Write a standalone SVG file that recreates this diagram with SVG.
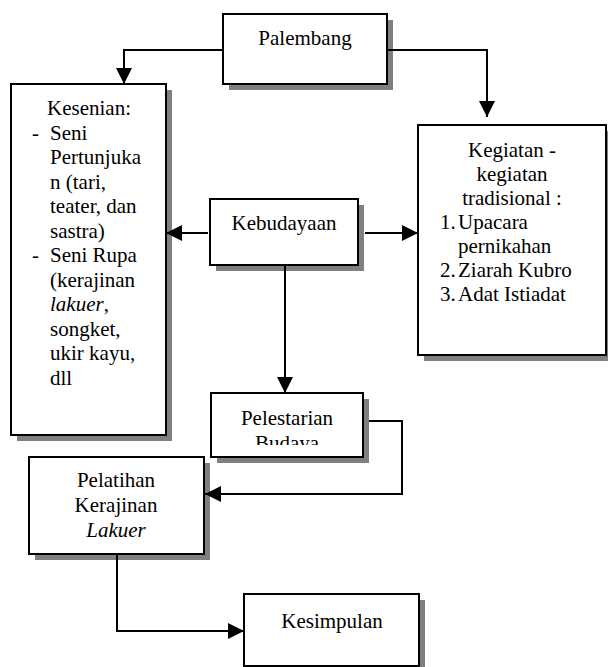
<svg xmlns="http://www.w3.org/2000/svg" width="608" height="667" viewBox="0 0 608 667">
<style>
.box{fill:#fff;stroke:#000;stroke-width:2}
.sh{fill:#808080;stroke:none}
.t{font-family:"Liberation Serif","Times New Roman",serif;font-size:21px;fill:#000}
.m{text-anchor:middle}
.c{fill:none;stroke:#000;stroke-width:2}
</style>
<defs>
<marker id="ah" markerUnits="userSpaceOnUse" markerWidth="16" markerHeight="16" refX="16" refY="8" orient="auto">
<path d="M0,0 L16,8 L0,16 z" fill="#000"/>
</marker>
<clipPath id="clipPel"><rect x="211" y="393" width="152" height="52"/></clipPath>
</defs>
<rect width="608" height="667" fill="#fff"/>

<g id="palembang">
<rect class="sh" x="229" y="20" width="164" height="70"/>
<rect class="box" x="223" y="14" width="164" height="70"/>
<text class="t m" x="305" y="45">Palembang</text>
</g>

<g id="kesenian">
<rect class="sh" x="17" y="90" width="155" height="351"/>
<rect class="box" x="11" y="84" width="155" height="351"/>
<text class="t m" x="89" y="115">Kesenian:</text>
<text class="t" x="32" y="139.5">-</text>
<text class="t" x="50" y="139.5">Seni</text>
<text class="t" x="50" y="164">Pertunjuka</text>
<text class="t" x="50" y="188.5">n (tari,</text>
<text class="t" x="50" y="213">teater, dan</text>
<text class="t" x="50" y="237.5">sastra)</text>
<text class="t" x="32" y="262">-</text>
<text class="t" x="50" y="262">Seni Rupa</text>
<text class="t" x="50" y="286.5">(kerajinan</text>
<text class="t" x="50" y="311"><tspan font-style="italic">lakuer</tspan>,</text>
<text class="t" x="50" y="335.5">songket,</text>
<text class="t" x="50" y="360">ukir kayu,</text>
<text class="t" x="50" y="384.5">dll</text>
</g>

<g id="kegiatan">
<rect class="sh" x="424" y="131" width="188" height="230"/>
<rect class="box" x="418" y="125" width="188" height="230"/>
<text class="t m" x="512" y="157">Kegiatan -</text>
<text class="t m" x="512" y="181">kegiatan</text>
<text class="t m" x="512" y="205">tradisional :</text>
<text class="t" x="440" y="229">1.</text>
<text class="t" x="458" y="229">Upacara</text>
<text class="t" x="458" y="253">pernikahan</text>
<text class="t" x="440" y="277">2.</text>
<text class="t" x="458" y="277">Ziarah Kubro</text>
<text class="t" x="440" y="301">3.</text>
<text class="t" x="458" y="301">Adat Istiadat</text>
</g>

<g id="kebudayaan">
<rect class="sh" x="216" y="205" width="148" height="66"/>
<rect class="box" x="210" y="199" width="148" height="66"/>
<text class="t m" x="284" y="230">Kebudayaan</text>
</g>

<g id="pelestarian">
<rect class="sh" x="217" y="399" width="152" height="64"/>
<rect class="box" x="211" y="393" width="152" height="64"/>
<g clip-path="url(#clipPel)">
<text class="t m" x="287" y="425">Pelestarian</text>
<text class="t m" x="287" y="449.5">Budaya</text>
</g>
</g>

<g id="pelatihan">
<rect class="sh" x="35" y="463" width="175" height="97"/>
<rect class="box" x="29" y="457" width="175" height="97"/>
<text class="t m" x="116" y="487">Pelatihan</text>
<text class="t m" x="116" y="512">Kerajinan</text>
<text class="t m" x="116" y="537" font-style="italic">Lakuer</text>
</g>

<g id="kesimpulan">
<rect class="sh" x="250" y="600" width="175" height="72"/>
<rect class="box" x="244" y="594" width="175" height="72"/>
<text class="t m" x="332" y="628" font-size="24">Kesimpulan</text>
</g>

<g id="connectors">
<path class="c" d="M223,50 H124 V84" marker-end="url(#ah)"/>
<path class="c" d="M387,50 H487 V117" marker-end="url(#ah)"/>
<path class="c" d="M208,233 H166" marker-end="url(#ah)"/>
<path class="c" d="M365,233 H418" marker-end="url(#ah)"/>
<path class="c" d="M285,265 V393" marker-end="url(#ah)"/>
<path class="c" d="M369,421 H402 V494 H205" marker-end="url(#ah)"/>
<path class="c" d="M117,554 V631 H244" marker-end="url(#ah)"/>
</g>
</svg>
